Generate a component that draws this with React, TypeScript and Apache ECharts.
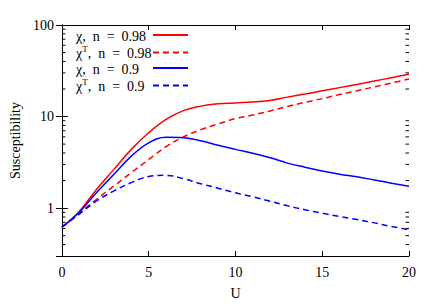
import React, { useEffect, useRef } from "react";
import * as echarts from "echarts";

const U = [0, 1, 2, 3, 4, 5, 6, 7, 8, 9, 10, 11, 12, 13, 14, 15, 16, 17, 18, 19, 20];
const chi098 = [0.62, 0.92, 1.61, 2.65, 4.38, 6.65, 9.3, 11.6, 13.0, 13.8, 14.1, 14.4, 15.0, 16.3, 17.6, 19.1, 20.7, 22.4, 24.4, 26.6, 29.0];
const chiT098 = [0.62, 0.88, 1.25, 1.75, 2.44, 3.4, 4.7, 6.0, 7.2, 8.3, 9.5, 10.4, 11.5, 12.9, 14.3, 15.7, 17.4, 19.1, 21.1, 23.3, 25.7];
const chi09 = [0.62, 0.9, 1.48, 2.34, 3.7, 5.17, 5.95, 5.88, 5.45, 4.85, 4.38, 3.98, 3.55, 3.1, 2.8, 2.55, 2.35, 2.2, 2.03, 1.87, 1.73];
const chiT09 = [0.62, 0.86, 1.2, 1.54, 1.9, 2.21, 2.28, 2.1, 1.85, 1.65, 1.47, 1.33, 1.19, 1.06, 0.96, 0.88, 0.81, 0.75, 0.69, 0.63, 0.58];
const minorTicks = [0.4, 0.5, 0.6, 0.7, 0.8, 0.9, 2, 3, 4, 5, 6, 7, 8, 9, 20, 30, 40, 50, 60, 70, 80, 90];
const names = ["χ, n = 0.98", "χ^T, n = 0.98", "χ, n = 0.9", "χ^T, n = 0.9"];

const FONT = "serif";

export default function App() {
  const ref = useRef<HTMLDivElement>(null);
  useEffect(() => {
    if (!ref.current) return;
    const chart = echarts.init(ref.current, null, { renderer: "svg" });
    const mk = (name: string, vals: number[], color: string, dashed: boolean) => ({
      name,
      type: "line",
      data: U.map((u, i) => [u, vals[i]]),
      smooth: 0.4,
      showSymbol: false,
      symbol: "none",
      lineStyle: { color, width: 1.5, type: dashed ? [6, 4] : "solid" },
      itemStyle: { color },
      z: 3,
    });
    const axisFont = { fontFamily: FONT, fontSize: 14, color: "#000" };
    const fmtRest = (s: string) => s.replace(" n = ", "  n  =  ");
    chart.setOption({
      animation: false,
      textStyle: { fontFamily: FONT },
      grid: { left: 57, right: 27, top: 25, bottom: 47 },
      legend: {
        orient: "vertical",
        left: 76,
        top: 29,
        align: "right",
        itemWidth: 35,
        itemHeight: 12,
        itemGap: 1.5,
        padding: 0,
        data: names,
        itemStyle: { opacity: 0 },
        formatter: (n: string) => {
          if (n.indexOf("^T") >= 0) {
            const parts = n.split("^T");
            return "{b|" + parts[0] + "}{s|T}{b|" + fmtRest(parts[1]) + "}";
          }
          return "{b|" + fmtRest(n) + "}";
        },
        textStyle: {
          width: 72,
          fontFamily: FONT,
          fontSize: 14,
          color: "#000",
          rich: {
            b: { fontFamily: FONT, fontSize: 14, color: "#000", lineHeight: 16, verticalAlign: "bottom", align: "left" },
            s: { fontFamily: FONT, fontSize: 9, color: "#000", lineHeight: 7, verticalAlign: "top", align: "left" },
          },
        },
      },
      xAxis: [
        {
          type: "value",
          min: 0,
          max: 20,
          interval: 5,
          name: "U",
          nameLocation: "middle",
          nameGap: 30,
          nameTextStyle: axisFont,
          axisLine: { lineStyle: { color: "#000", width: 1 } },
          axisTick: { inside: true, length: 5, lineStyle: { color: "#000" } },
          axisLabel: { ...axisFont, margin: 9 },
          splitLine: { show: false },
        },
        {
          type: "value",
          position: "top",
          min: 0,
          max: 20,
          interval: 5,
          axisLine: { show: true, lineStyle: { color: "#000", width: 1 } },
          axisTick: { show: true, inside: true, length: 5, lineStyle: { color: "#000" } },
          axisLabel: { show: false },
          splitLine: { show: false },
        },
      ],
      yAxis: [
        {
          type: "log",
          logBase: 10,
          min: 0.3,
          max: 100,
          name: "Susceptibility",
          nameLocation: "middle",
          nameGap: 23,
          nameTextStyle: axisFont,
          axisLine: { show: true, lineStyle: { color: "#000", width: 1 } },
          axisTick: { show: true, inside: true, length: 6, lineStyle: { color: "#000" } },
          axisLabel: {
            ...axisFont,
            margin: 8,
            formatter: (v: number) => {
              const l = Math.log10(v);
              return Math.abs(l - Math.round(l)) < 1e-6 ? String(Math.round(v)) : "";
            },
          },
          splitLine: { show: false },
        },
        {
          type: "log",
          logBase: 10,
          position: "right",
          min: 0.3,
          max: 100,
          axisLine: { show: true, lineStyle: { color: "#000", width: 1 } },
          axisTick: { show: true, inside: true, length: 6, lineStyle: { color: "#000" } },
          axisLabel: { show: false },
          splitLine: { show: false },
        },
      ],
      series: [
        mk(names[0], chi098, "#ff0000", false),
        mk(names[1], chiT098, "#ff0000", true),
        mk(names[2], chi09, "#0000ff", false),
        mk(names[3], chiT09, "#0000ff", true),
        {
          type: "custom",
          name: "minor",
          silent: true,
          clip: false,
          data: minorTicks.map((v) => [0, v]),
          renderItem: (params: any, api: any) => {
            const v = api.value(1);
            const pL = api.coord([0, v]);
            const pR = api.coord([20, v]);
            return {
              type: "group",
              children: [
                { type: "line", shape: { x1: pL[0], y1: pL[1], x2: pL[0] + 3.5, y2: pL[1] }, style: { stroke: "#000", lineWidth: 1 } },
                { type: "line", shape: { x1: pR[0], y1: pR[1], x2: pR[0] - 3.5, y2: pR[1] }, style: { stroke: "#000", lineWidth: 1 } },
              ],
            };
          },
          z: 5,
        },
      ],
    });
    return () => chart.dispose();
  }, []);
  return <div ref={ref} style={{ width: 436, height: 305, position: "absolute", left: 0, top: 0 }} />;
}
